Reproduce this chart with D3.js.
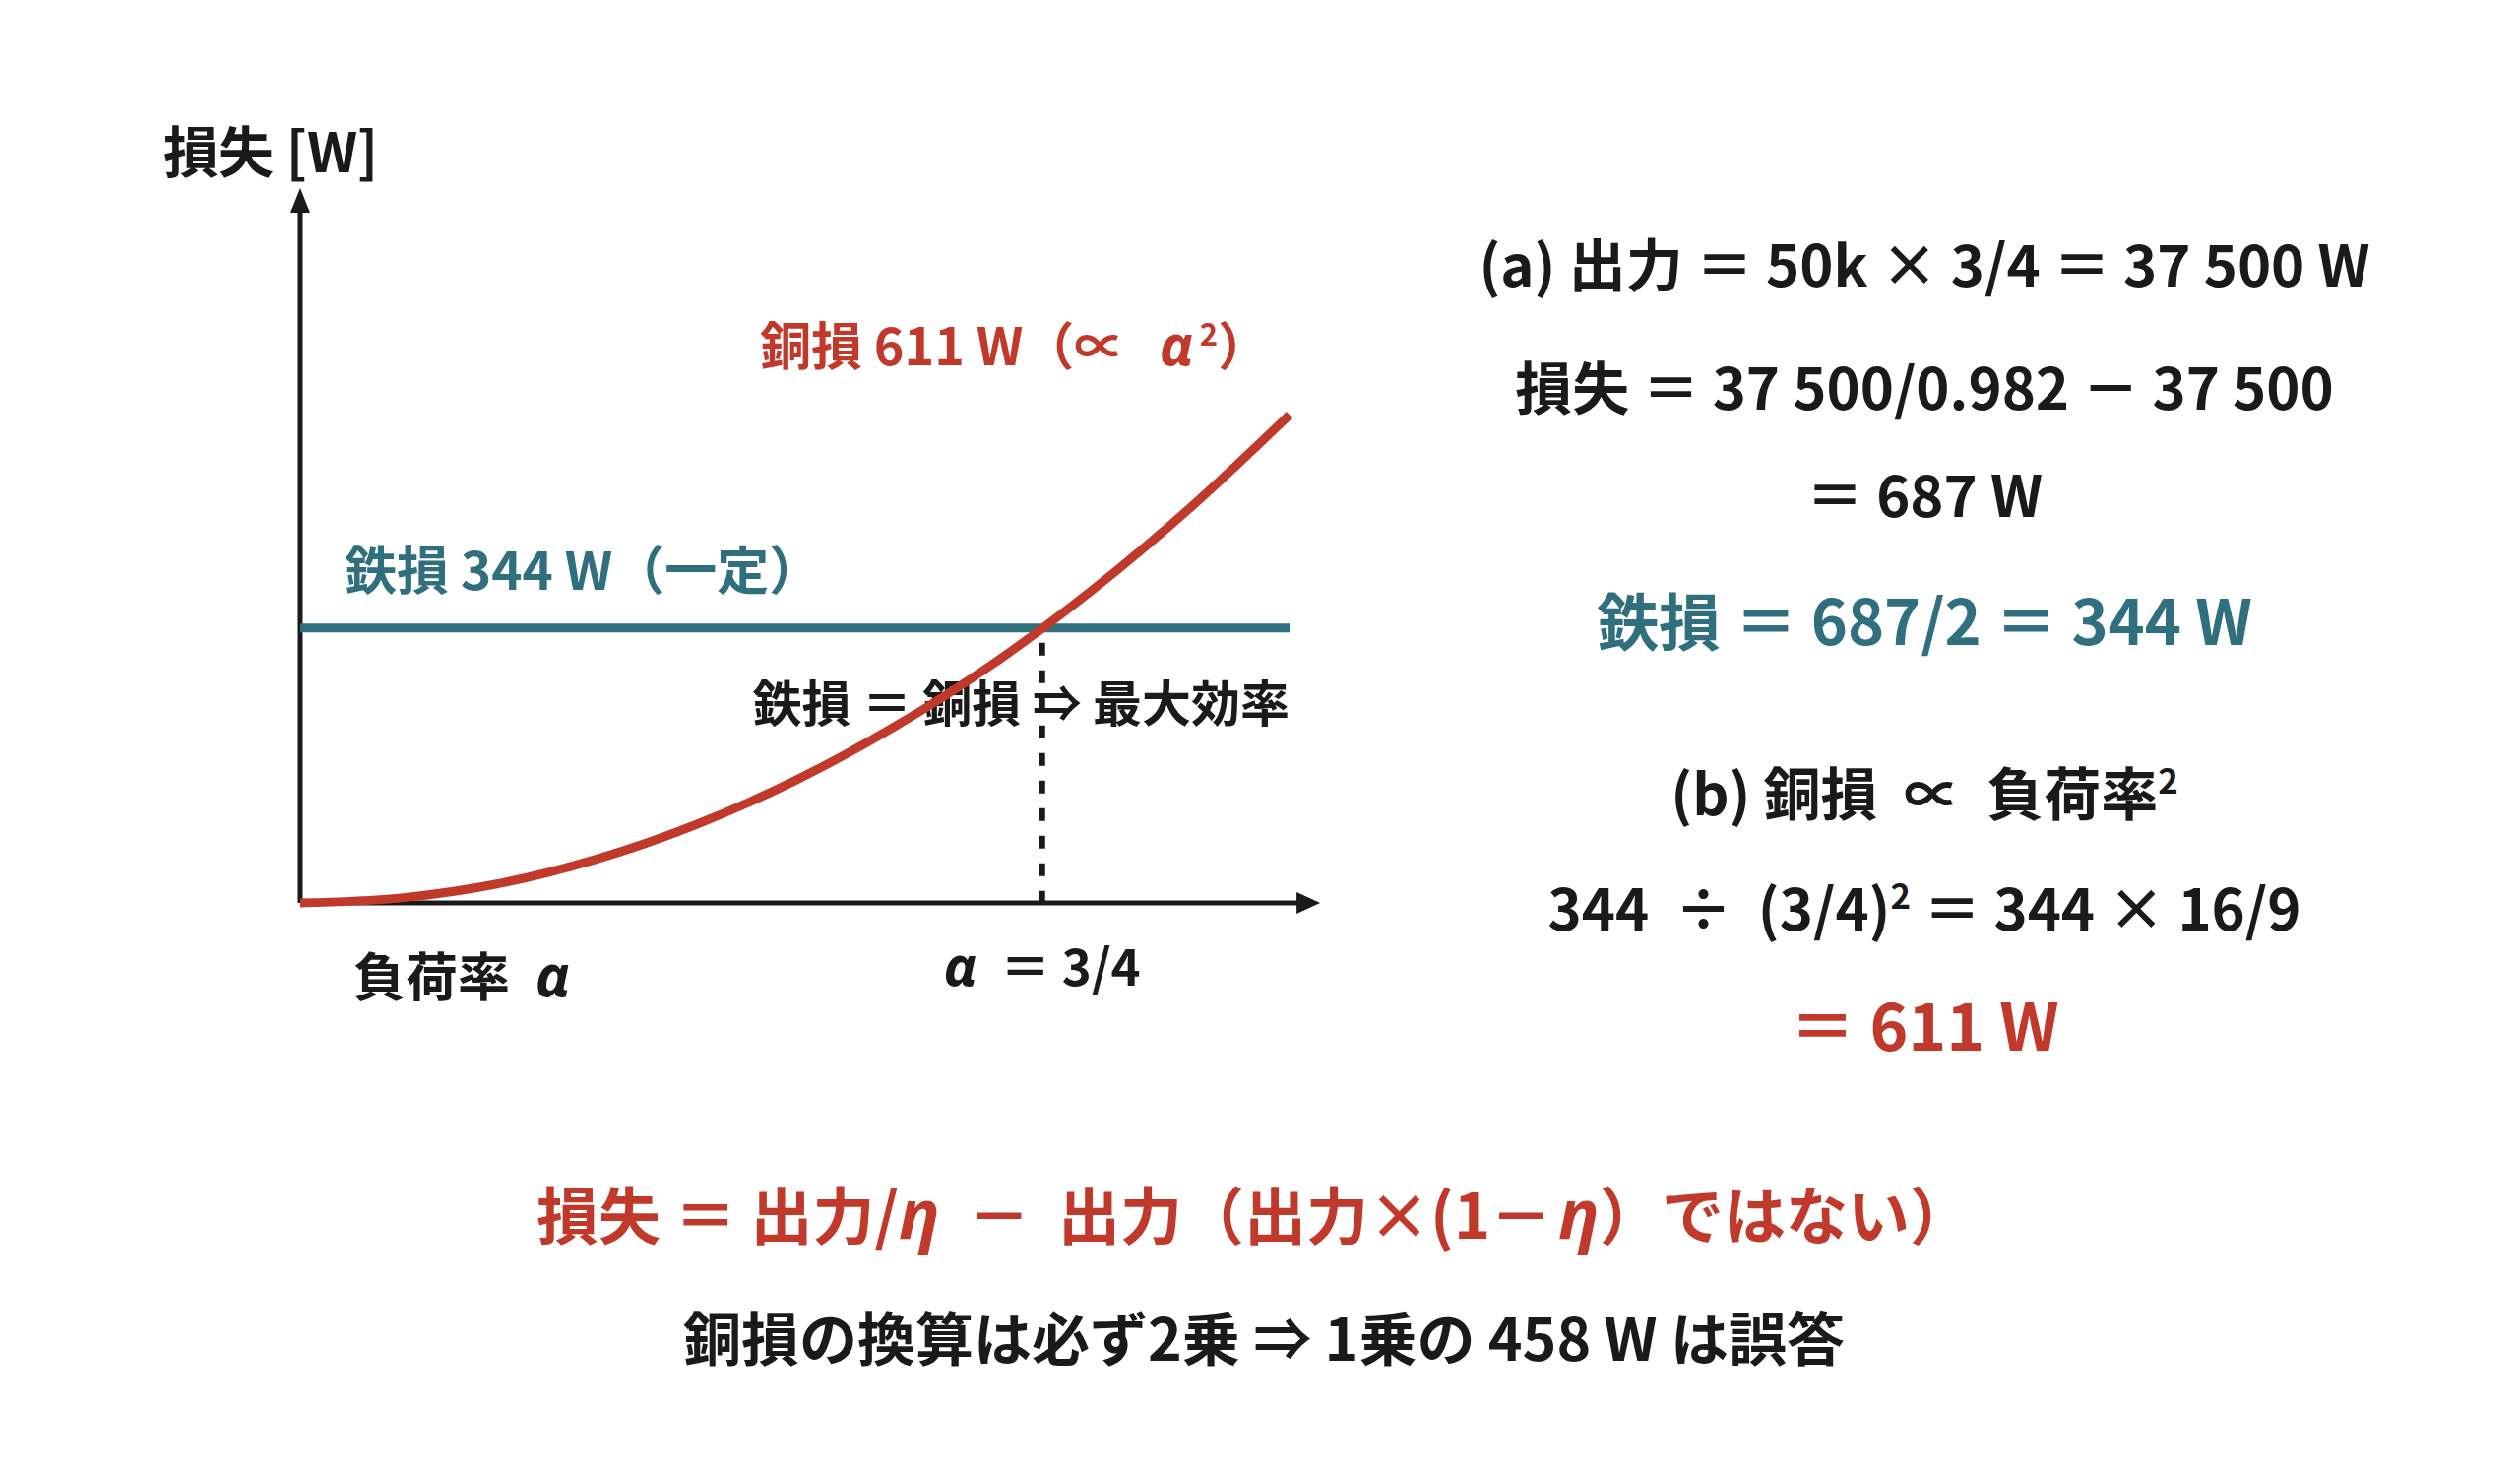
<!DOCTYPE html>
<html>
<head>
<meta charset="utf-8">
<script src="https://cdn.jsdelivr.net/npm/d3@7"></script>
<style>
  body { margin: 0; background: #fff; }
  text { font-family: "Noto Sans CJK JP", "Noto Sans", sans-serif; font-weight: 700; }
</style>
</head>
<body>
<script>
// values
const loadFactors = [0, 0.1, 0.2, 0.3, 0.4, 0.5, 0.6, 0.7, 0.8, 0.9, 1.0];
const copperLoss = [0, 6, 24, 55, 98, 153, 220, 299, 391, 495, 611];
const ironLoss = 344;
const alphaMax = 0.75;
const axisMax = { x: 1.031, y: 891 };

const rightLines = [
  { parts: [["(a) 出力 ＝ 50k × 3/4 ＝ 37 500 W"]], size: 58, color: "dark", y: 291 },
  { parts: [["損失 ＝ 37 500/0.982 － 37 500"]], size: 58, color: "dark", y: 416 },
  { parts: [["＝ 687 W"]], size: 58, color: "dark", y: 525 },
  { parts: [["鉄損 ＝ 687/2 ＝ 344 W"]], size: 63, color: "teal", y: 655 },
  { parts: [["(b) 銅損  ∝  負荷率"], ["2", "sup"]], size: 58, color: "dark", y: 828 },
  { parts: [["344  ÷  (3/4)"], ["2", "sup"], [" ＝ 344 × 16/9"]], size: 58, color: "dark", y: 945 },
  { parts: [["＝ 611 W"]], size: 66, color: "red", y: 1067 }
];

const colors = { dark: "#1a1a1a", red: "#c0392b", teal: "#2f6f7e" };

const width = 2560, height = 1500;
const svg = d3.select("body").append("svg")
  .attr("width", width)
  .attr("height", height);

const x = d3.scaleLinear().domain([0, 1]).range([305, 1310]);
const y = d3.scaleLinear().domain([0, axisMax.y]).range([917, 194]);

// helper for text with tspans: [text, kind, dx]
function addText(g, parts, opts) {
  const t = g.append("text")
    .attr("x", opts.x)
    .attr("y", opts.y)
    .attr("font-size", opts.size)
    .attr("fill", opts.fill)
    .attr("text-anchor", opts.anchor || "start")
    .style("white-space", "pre");
  let raised = false;
  parts.forEach(p => {
    const s = t.append("tspan").text(p[0]);
    if (p[2]) s.attr("dx", p[2]);
    if (p[1] === "sup") {
      s.attr("font-size", opts.size * 0.6).attr("dy", -opts.size * 0.38);
      raised = true;
      return;
    }
    if (raised) { s.attr("dy", opts.size * 0.38); raised = false; }
    if (p[1] === "it") s.attr("font-style", "italic").attr("font-family", "'Noto Sans', sans-serif").attr("font-size", opts.size * 1.1);
  });
  return t;
}

const chart = svg.append("g");

// labels (drawn first, lines go on top)
addText(chart, [["損失 [W]"]], { x: 166, y: 175, size: 56, fill: colors.dark });
addText(chart, [["銅損 611 W（∝ "], [" α", "it", 8], ["2", "sup", 6], ["）"]],
  { x: 772, y: 371, size: 52, fill: colors.red });
addText(chart, [["鉄損 344 W（一定）"]], { x: 350, y: 599, size: 53, fill: colors.teal });
addText(chart, [["鉄損 ＝ 銅損 ⇒ 最大効率"]], { x: x(1), y: 733, size: 50, fill: colors.dark, anchor: "end" });
addText(chart, [["負荷率 "], ["α", "it", 14]], { x: 359, y: 1012, size: 53, fill: colors.dark });
addText(chart, [["α", "it"], ["  ＝ 3/4"]], { x: x(alphaMax), y: 1001, size: 51, fill: colors.dark, anchor: "middle" });

// axes with arrows
const axisColor = colors.dark;
chart.append("line")
  .attr("x1", x(0)).attr("y1", y(0))
  .attr("x2", x(0)).attr("y2", y(axisMax.y) + 20)
  .attr("stroke", axisColor).attr("stroke-width", 5);
chart.append("path")
  .attr("d", `M${x(0)},${y(axisMax.y) - 3} L${x(0) - 10},${y(axisMax.y) + 22} L${x(0) + 10},${y(axisMax.y) + 22} Z`)
  .attr("fill", axisColor);

chart.append("line")
  .attr("x1", x(0)).attr("y1", y(0))
  .attr("x2", x(axisMax.x) - 20).attr("y2", y(0))
  .attr("stroke", axisColor).attr("stroke-width", 5);
chart.append("path")
  .attr("d", `M${x(axisMax.x)},${y(0)} L${x(axisMax.x) - 24},${y(0) - 11} L${x(axisMax.x) - 24},${y(0) + 11} Z`)
  .attr("fill", axisColor);

// dashed line at max efficiency point
chart.append("line")
  .attr("x1", x(alphaMax)).attr("y1", y(ironLoss) + 15)
  .attr("x2", x(alphaMax)).attr("y2", y(0))
  .attr("stroke", axisColor).attr("stroke-width", 6)
  .attr("stroke-dasharray", "13,15");

// iron loss (constant)
chart.append("line")
  .attr("x1", x(0)).attr("y1", y(ironLoss))
  .attr("x2", x(1)).attr("y2", y(ironLoss))
  .attr("stroke", colors.teal).attr("stroke-width", 9);

// copper loss curve
const line = d3.line()
  .x((d, i) => x(loadFactors[i]))
  .y(d => y(d))
  .curve(d3.curveCatmullRom);
chart.append("path")
  .datum(copperLoss)
  .attr("d", line)
  .attr("fill", "none")
  .attr("stroke", colors.red)
  .attr("stroke-width", 9);

// right side calculation
const right = svg.append("g");
rightLines.forEach(l => {
  addText(right, l.parts, { x: 1955, y: l.y, size: l.size, fill: colors[l.color], anchor: "middle" });
});

// bottom notes
addText(svg, [["損失 ＝ 出力/"], ["η", "it"], ["  －  出力（出力×(1－"], ["η", "it", 6], ["）ではない）"]],
  { x: 1274, y: 1258, size: 63, fill: colors.red, anchor: "middle" });
addText(svg, [["銅損の換算は必ず2乗 ⇒ 1乗の 458 W は誤答"]],
  { x: 1284, y: 1382, size: 59, fill: colors.dark, anchor: "middle" });
</script>
</body>
</html>
